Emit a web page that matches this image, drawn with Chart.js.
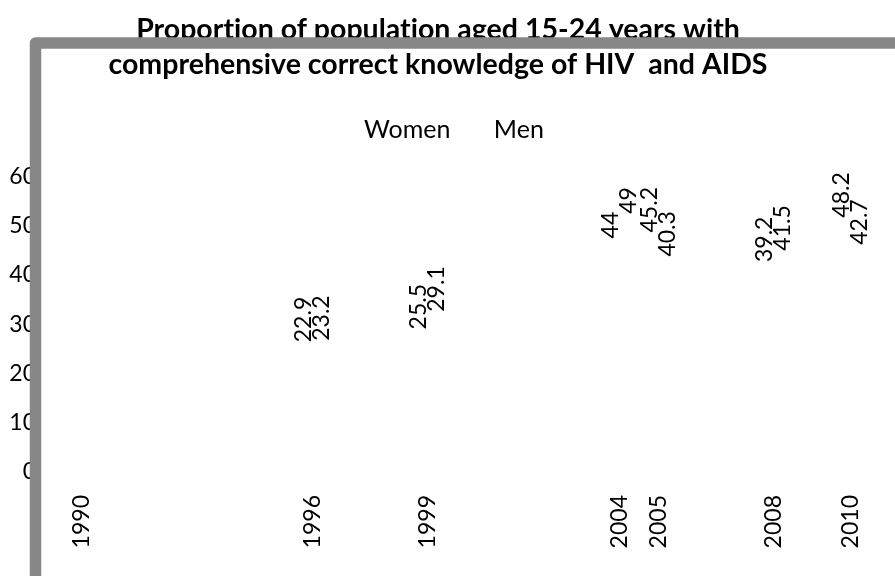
<!DOCTYPE html>
<html>
<head>
<meta charset="utf-8">
<script src="https://cdn.jsdelivr.net/npm/chart.js@4"></script>
<style>
  html, body { margin: 0; padding: 0; background: #fff; }
  #wrap { width: 895px; height: 576px; }
</style>
</head>
<body>
<div id="wrap"><canvas id="chart" width="895" height="576"></canvas></div>
<script>
// ------------------------------
// DATA
// ------------------------------
const years = [1996, 1999, 2004, 2005, 2008, 2010];
const women = [22.9, 25.5, 44, 45.2, 39.2, 48.2];
const men = [23.2, 29.1, 49, 40.3, 41.5, 42.7];
const yearTicks = [1990, 1996, 1999, 2004, 2005, 2008, 2010];
const valueTicks = [0, 10, 20, 30, 40, 50, 60];
const titleLines = [
  "Proportion of population aged 15-24 years with",
  "comprehensive correct knowledge of HIV  and AIDS"
];

const FONT = "Lato";

// tiny letter spacing switches off the "ti" ligature of Lato
const noLigatures = {
  id: "noLigatures",
  beforeDraw(chart) {
    if ("letterSpacing" in chart.ctx) chart.ctx.letterSpacing = "0.01px";
  }
};

// value labels, rotated, just above each (invisible) bar
const valueLabels = {
  id: "valueLabels",
  afterDatasetsDraw(chart) {
    const ctx = chart.ctx;
    chart.data.datasets.forEach((ds, i) => {
      const meta = chart.getDatasetMeta(i);
      meta.data.forEach((bar, j) => {
        ctx.save();
        ctx.translate(bar.x, bar.y - 17);
        ctx.rotate(-Math.PI / 2);
        ctx.font = "23px " + FONT;
        ctx.fillStyle = "#000";
        ctx.textAlign = "left";
        ctx.textBaseline = "middle";
        ctx.fillText(String(ds.data[j].y), 0, 0);
        ctx.restore();
      });
    });
  }
};

// grey frame drawn over the top-left of the picture
const frame = {
  id: "frame",
  afterDraw(chart) {
    const ctx = chart.ctx;
    ctx.save();
    ctx.strokeStyle = "#878787";
    ctx.lineWidth = 11.5;
    ctx.lineJoin = "round";
    ctx.beginPath();
    ctx.moveTo(35.5, 600);
    ctx.lineTo(35.5, 43);
    ctx.lineTo(920, 43);
    ctx.stroke();
    ctx.restore();
  }
};

const toPoints = vals => vals.map((v, i) => ({ x: years[i], y: v }));

new Chart(document.getElementById("chart"), {
  type: "bar",
  data: {
    datasets: [
      // leading spaces nudge the centred legend to the right
      { label: "   Women", data: toPoints(women), backgroundColor: "rgba(0,0,0,0)", borderWidth: 0 },
      { label: "Men", data: toPoints(men), backgroundColor: "rgba(0,0,0,0)", borderWidth: 0 }
    ]
  },
  options: {
    responsive: false,
    animation: false,
    categoryPercentage: 0.94,
    barPercentage: 0.9,
    layout: { padding: { left: 0, right: 19, top: 0, bottom: 0 } },
    plugins: {
      title: {
        display: true,
        text: titleLines,
        color: "#000",
        font: { family: FONT, size: 28.5, weight: "bold", lineHeight: 35 / 28.5 },
        padding: { top: 12, bottom: 4 }
      },
      legend: {
        display: true,
        labels: {
          color: "#000",
          font: { family: FONT, size: 25 },
          boxWidth: 0,
          boxHeight: 0,
          padding: 31
        }
      },
      tooltip: { enabled: false }
    },
    scales: {
      x: {
        type: "linear",
        min: 1989,
        max: 2010.66,
        offset: false,
        grid: { display: false, drawTicks: false },
        border: { display: false },
        afterBuildTicks: scale => { scale.ticks = yearTicks.map(v => ({ value: v })); },
        afterFit: scale => {
          scale.height = 104;
          scale.paddingLeft = 0;
          scale.paddingRight = 0;
        },
        ticks: {
          autoSkip: false,
          minRotation: 90,
          maxRotation: 90,
          padding: 23,
          color: "#000",
          font: { family: FONT, size: 23 },
          callback: v => String(v)
        }
      },
      y: {
        min: 0,
        max: 65,
        grid: { display: false, drawTicks: false },
        border: { display: false },
        afterBuildTicks: scale => { scale.ticks = valueTicks.map(v => ({ value: v })); },
        afterFit: scale => { scale.width = 43; },
        ticks: {
          padding: 7,
          color: "#000",
          font: { family: FONT, size: 23 }
        }
      }
    }
  },
  plugins: [noLigatures, valueLabels, frame]
});
</script>
</body>
</html>
